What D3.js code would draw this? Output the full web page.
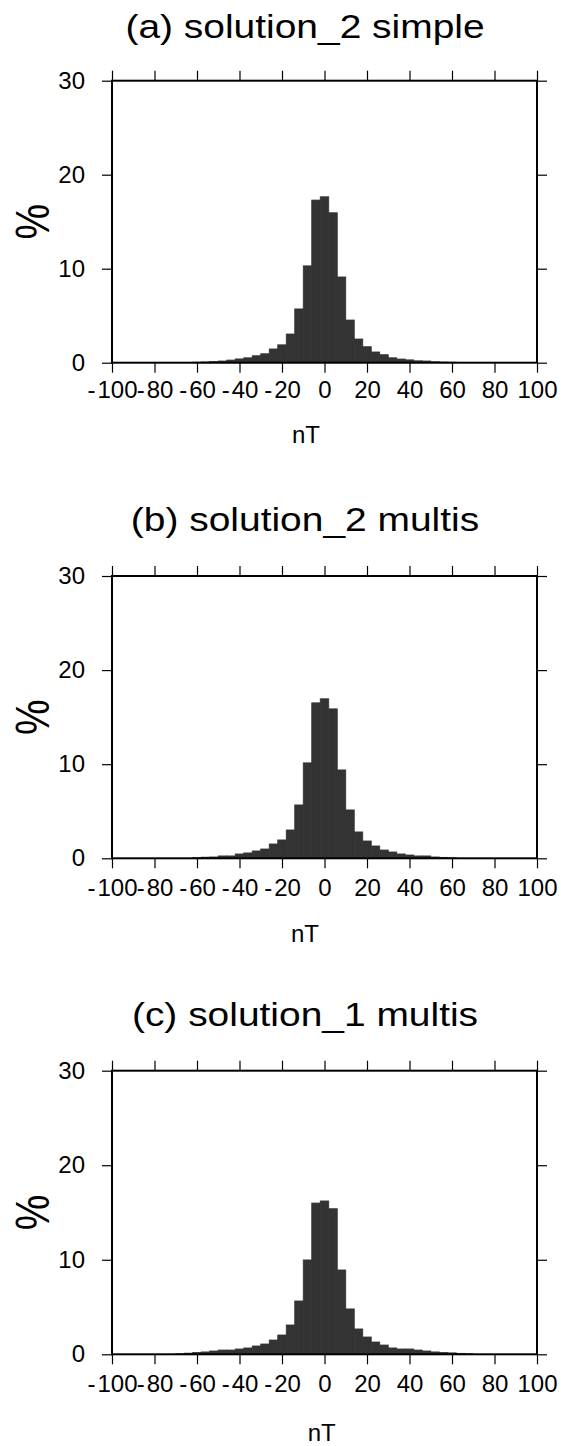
<!DOCTYPE html>
<html><head><meta charset="utf-8">
<script src="https://cdn.jsdelivr.net/npm/d3@7"></script>
<style>
body{margin:0;background:#fff}
svg{display:block;background:#fff}
text{font-family:"Liberation Sans",Arial,Helvetica,sans-serif;fill:#000}
.tick text{font-size:24px}
</style>
</head><body><svg id="c" width="561" height="1446"></svg>
<script>
// ---- data ----
const titles = ["(a) solution_2 simple", "(b) solution_2 multis", "(c) solution_1 multis"];
const binCenters = [-68,-64,-60,-56,-52,-48,-44,-40,-36,-32,-28,-24,-20,-16,-12,-8,-4,0,4,8,12,16,20,24,28,32,36,40,44,48,52,56,60,64,68];
const valuesA = [0,0,0.05,0.08,0.12,0.18,0.28,0.40,0.52,0.74,0.95,1.46,1.90,3.05,5.72,10.3,17.3,17.65,15.95,9.12,4.54,2.52,1.70,1.14,0.85,0.52,0.39,0.30,0.20,0.18,0.10,0.07,0.05,0,0];
const valuesB = [0,0,0.06,0.12,0.14,0.25,0.25,0.46,0.57,0.78,0.99,1.52,1.95,3.01,5.67,10.14,16.52,16.95,15.88,9.39,5.14,2.80,1.84,1.31,0.88,0.67,0.46,0.35,0.25,0.25,0.14,0.10,0.05,0,0];
const valuesC = [0.05,0.12,0.20,0.25,0.35,0.45,0.45,0.56,0.67,0.88,1.09,1.51,2.04,3.10,5.64,9.98,16.0,16.22,15.4,8.92,4.80,2.68,1.83,1.30,0.98,0.67,0.56,0.56,0.45,0.35,0.25,0.20,0.15,0.10,0.05];
const xTicks = [-100,-80,-60,-40,-20,0,20,40,60,80,100];
const yTicks = [0,10,20,30];
const xLabel = "nT";
const yLabel = "%";
const binWidth = 4;

// ---- layout ----
const seriesList = [valuesA, valuesB, valuesC];
const layout = [
  {top:80.7,  bottom:362.7,  titleY:38,   labelPad:8,  nTY:443,    nTX:306},
  {top:576,   bottom:858.3,  titleY:531,  labelPad:11, nTY:941.7,  nTX:305},
  {top:1070.7,bottom:1354.3, titleY:1026, labelPad:11, nTY:1441,   nTX:321.7}
];
const left = 112, right = 537;
const svg = d3.select("#c");
const x = d3.scaleLinear().domain([-100,100]).range([left,right]);

layout.forEach((L,i)=>{
  const y = d3.scaleLinear().domain([0,30]).range([L.bottom,L.top]);
  const g = svg.append("g");
  const data = binCenters.map((c,j)=>({c, v:seriesList[i][j]})).filter(d=>d.v>0);
  g.selectAll("rect.bar").data(data).join("rect").attr("class","bar")
    .attr("x", d=>x(d.c-binWidth/2))
    .attr("width", d=>x(d.c+binWidth/2)-x(d.c-binWidth/2))
    .attr("y", d=>y(d.v))
    .attr("height", d=>y(0)-y(d.v))
    .attr("fill","#333333")
    .attr("stroke","#333333").attr("stroke-width",0.8);

  const addAxis = (axis, transform) => {
    const a = g.append("g").attr("transform",transform).call(axis)
      .attr("font-size",null).attr("font-family",null);
    a.select(".domain").remove();
    a.selectAll(".tick line").attr("stroke","#000").attr("stroke-width",1.2);
    return a;
  };
  const bx = addAxis(d3.axisBottom(x).tickValues(xTicks).tickSize(10).tickPadding(L.labelPad).tickFormat(d=>String(d)),
          `translate(0,${L.bottom})`);
  // negative labels: hyphen with a slightly wider advance (like the original's minus)
  bx.selectAll(".tick text").each(function(d){
    if (d < 0) {
      const t = d3.select(this);
      t.text(null);
      t.append("tspan").text("-");
      t.append("tspan").attr("dx",2).text(String(-d));
    }
  });
  addAxis(d3.axisTop(x).tickValues(xTicks).tickSize(10).tickFormat(""), `translate(0,${L.top})`);
  addAxis(d3.axisLeft(y).tickValues(yTicks).tickSize(10).tickPadding(17).tickFormat(d=>String(d)),
          `translate(${left},0)`);
  addAxis(d3.axisRight(y).tickValues(yTicks).tickSize(10).tickFormat(""), `translate(${right},0)`);

  g.append("rect").attr("x",left).attr("y",L.top).attr("width",right-left).attr("height",L.bottom-L.top)
    .attr("fill","none").attr("stroke","#000").attr("stroke-width",2);

  g.append("text").attr("transform",`translate(305,${L.titleY}) scale(1.18,1)`)
    .attr("text-anchor","middle").attr("font-size",33).text(titles[i]);

  g.append("text").attr("transform",`translate(${L.nTX},${L.nTY})`)
    .attr("text-anchor","middle").attr("font-size",24).text(xLabel);

  g.append("text").attr("transform",`translate(32,${(L.top+L.bottom)/2}) scale(1.2,1) rotate(-90)`)
    .attr("text-anchor","middle").attr("dominant-baseline","central").attr("font-size",40).text(yLabel);
});
</script>
</body></html>
